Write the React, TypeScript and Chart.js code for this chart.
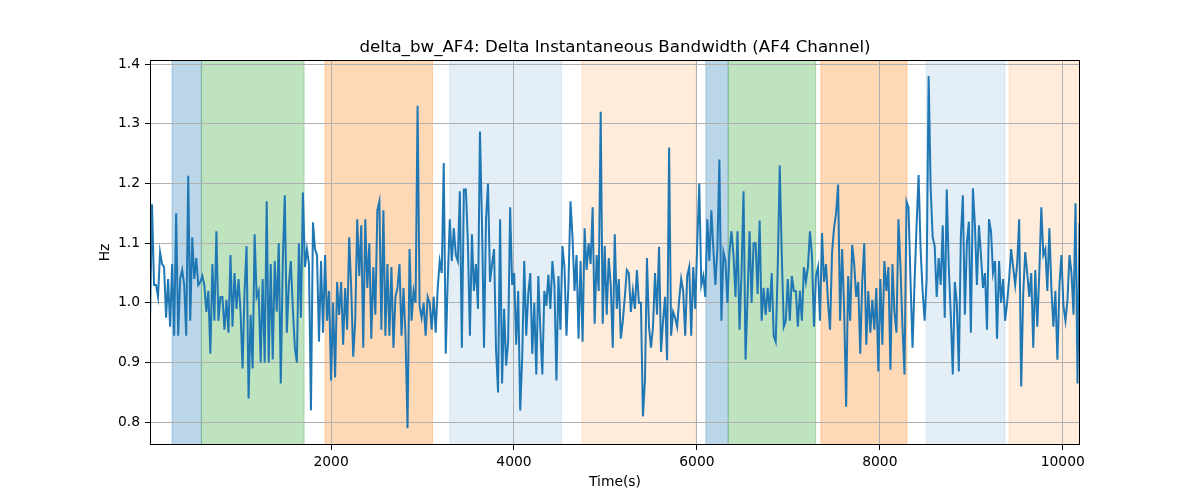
import React, { useEffect, useRef } from "react";
import { Chart, registerables } from "chart.js";

Chart.register(...registerables);

// ---- data ----
const T0 = 20; // first sample time (s)
const DT = 22; // sampling step (s)
const X_MIN = 20;
const X_MAX = 10189;
const Y_MIN = 0.762;
const Y_MAX = 1.4067;

const xTicks = [2000, 4000, 6000, 8000, 10000];
const yTicks = [0.8, 0.9, 1.0, 1.1, 1.2, 1.3, 1.4];

const TITLE = "delta_bw_AF4: Delta Instantaneous Bandwidth (AF4 Channel)";
const X_LABEL = "Time(s)";
const Y_LABEL = "Hz";

const seg1 = [
  0.965, 1.165, 1.03, 1.03, 1.01, 1.085, 1.065, 1.06, 0.975, 1.04,
  0.96, 1.065, 0.945, 1.15, 0.945, 1.04, 1.055, 1.03, 0.945, 1.213,
  0.97, 1.11, 1.04, 1.075, 1.03, 1.035, 1.045, 1.03, 0.985, 1.02,
  0.915, 1.065, 0.97, 1.12, 0.97, 1.01, 1.01, 0.955, 1.005, 0.95,
  1.08, 0.96, 1.05, 0.99, 1.04, 0.985, 0.89, 1.02, 1.095, 0.84,
  0.98, 0.89, 1.115, 1.01, 1.02, 0.9, 1.04, 0.9, 1.17, 0.9,
  1.065, 0.905, 1.07, 0.985, 1.1, 0.865, 1.07, 1.18, 0.95, 1.03,
  1.07, 0.99, 0.925, 0.9, 1.1, 0.975, 1.185, 1.06, 1.09, 1.065,
];
const seg2 = [
  0.82, 1.135, 1.09, 1.08, 0.935, 1.07, 0.95, 1.08, 0.97, 1.02,
  0.87, 1.0, 0.875, 1.035, 0.98, 1.035, 0.93, 1.025, 0.955, 1.11,
  1.025, 0.91, 0.97, 1.14, 1.045, 1.13, 0.925, 1.14, 1.025, 1.1,
  0.94, 1.06, 0.98, 1.155, 1.17, 0.955, 1.155, 0.945, 1.065, 0.945,
  1.06, 0.925, 1.01, 1.025, 1.065, 0.945, 1.025, 0.945, 0.79, 1.09,
  0.97, 1.02, 1.0, 1.33, 0.995, 0.975, 1.0, 0.945, 1.01, 1.0,
  0.955, 1.01, 0.95, 1.025, 1.07, 1.05, 1.234, 0.915, 1.04, 1.14,
  1.07, 1.125, 1.08, 1.07, 1.187, 0.925, 1.19,
];
const seg3 = [
  1.19, 1.1, 0.945, 1.115, 1.02, 1.065, 0.99, 1.287, 1.135, 0.925,
  1.14, 1.2, 1.035, 1.065, 1.09, 0.92, 0.85, 1.14, 0.865, 0.99,
  0.895, 0.935, 1.16, 1.03, 1.05, 0.93, 1.02, 0.82, 0.91, 1.07,
  0.945, 1.015, 1.05, 0.915, 1.0, 0.88, 1.045, 0.955, 0.88, 1.02,
  0.995, 1.047, 0.99, 1.07, 1.03, 0.87, 1.045, 0.955, 1.095, 1.06,
  0.945, 1.034, 1.17, 1.11, 1.02, 1.08, 0.94, 1.07, 0.935, 1.125,
  1.055, 1.1, 1.065, 1.16, 0.965, 1.08, 1.02, 1.32, 0.965, 1.095,
  0.98, 1.075, 1.03, 0.925, 1.115, 0.99, 1.04,
];
const seg4 = [
  0.94, 0.97, 1.01, 1.055, 1.05, 0.985, 1.02, 0.99, 1.055, 1.0,
  1.0, 0.81, 0.87, 1.075, 0.96, 0.925, 0.96, 1.05, 0.98, 1.094,
  0.918, 0.97, 1.01, 0.904, 1.26, 0.945, 0.985, 0.975, 0.96, 1.005,
  1.04, 1.02, 0.945, 1.045, 1.06, 0.945, 1.06, 0.99, 1.1, 1.2,
  1.03, 1.045, 1.01, 1.14, 1.07, 1.155, 1.09, 1.03, 1.09, 1.24,
  0.97, 1.085, 1.07, 1.0, 1.085, 1.12, 1.08, 1.01, 1.12, 0.955,
  1.05, 1.187, 0.905, 1.01, 1.12, 1.0, 1.1, 1.1, 1.015, 1.138,
  0.97, 1.025, 0.98, 1.025, 0.985, 1.05, 0.945,
];
const seg5 = [
  0.935, 1.06, 1.23, 1.08, 0.96, 0.97, 1.04, 0.97, 1.045, 1.02,
  1.02, 0.96, 1.02, 0.97, 1.06, 1.035, 1.06, 1.12, 1.08, 0.96,
  1.045, 1.06, 0.97, 1.117, 1.035, 1.065, 1.0, 0.955, 1.085, 1.126,
  1.15, 1.198, 0.97, 1.09, 0.99, 0.826, 1.045, 0.97, 1.097, 1.065,
  1.01, 1.035, 0.915, 1.035, 1.1, 0.93, 1.02, 0.95, 1.005, 0.955,
  1.025, 0.885, 1.04, 0.93, 1.07, 1.02, 1.06, 0.888, 1.065, 0.985,
  0.95, 1.14, 1.06, 0.96, 0.88, 1.17, 1.16, 1.035, 0.925, 1.035,
  1.13, 1.214, 1.09, 1.02, 0.97, 1.04, 1.38,
];
const seg6 = [
  1.192, 1.11, 1.095, 1.01, 1.075, 1.03, 1.13, 0.975, 1.19, 1.06,
  0.98, 0.88, 1.035, 1.0, 0.885, 1.11, 1.18, 0.98, 1.1, 1.136,
  0.95, 1.192, 1.13, 1.03, 1.13, 1.08, 1.025, 1.05, 0.955, 1.14,
  1.12, 1.05, 1.07, 0.94, 1.07, 1.0, 1.04, 0.97, 1.0, 1.04,
  1.09, 1.06, 1.03, 1.065, 1.14, 0.86, 1.015, 1.085, 1.05, 1.01,
  1.05, 0.925, 1.055, 0.96, 1.05, 1.16, 1.08, 1.09, 1.02, 1.125,
  1.025, 0.96, 1.02, 0.905, 1.03, 1.08, 0.995, 0.97, 1.005, 1.08,
  1.05, 0.98, 1.167, 0.865, 1.135,
];

const bandwidth = [...seg1, ...seg2, ...seg3, ...seg4, ...seg5, ...seg6];

// shaded intervals
const spanStarts = [261, 582, 1934, 3298, 4742, 6098, 6342, 7356, 8508, 9413];
const spanEnds = [582, 1705, 3109, 4520, 5989, 6342, 7298, 8297, 9369, 10189];
const spanColors = [
  "rgba(31,119,180,0.3)",
  "rgba(44,160,44,0.3)",
  "rgba(255,127,14,0.3)",
  "rgba(31,119,180,0.12)",
  "rgba(255,127,14,0.15)",
  "rgba(31,119,180,0.3)",
  "rgba(44,160,44,0.3)",
  "rgba(255,127,14,0.3)",
  "rgba(31,119,180,0.12)",
  "rgba(255,127,14,0.15)",
];

const FONT = '"DejaVu Sans", "Liberation Sans", sans-serif';

const decorPlugin = {
  id: "decor",
  beforeDraw(chart: any) {
    const { ctx, chartArea: a, scales } = chart;
    ctx.save();
    ctx.fillStyle = "#ffffff";
    ctx.fillRect(0, 0, chart.width, chart.height);
    ctx.beginPath();
    ctx.rect(a.left, a.top, a.right - a.left, a.bottom - a.top);
    ctx.clip();
    const xs = scales.x;
    for (let i = 0; i < spanStarts.length; i++) {
      const x1 = xs.getPixelForValue(spanStarts[i]);
      const x2 = xs.getPixelForValue(spanEnds[i]);
      ctx.fillStyle = spanColors[i];
      ctx.fillRect(x1, a.top, x2 - x1, a.bottom - a.top);
      ctx.strokeStyle = spanColors[i];
      ctx.lineWidth = 1;
      ctx.strokeRect(x1, a.top, x2 - x1, a.bottom - a.top);
    }
    ctx.restore();
  },
  afterDraw(chart: any) {
    const { ctx, chartArea: a } = chart;
    ctx.save();
    ctx.strokeStyle = "#000000";
    ctx.lineWidth = 1;
    ctx.strokeRect(
      Math.round(a.left) + 0.5,
      Math.round(a.top) + 0.5,
      Math.round(a.right - a.left) - 1,
      Math.round(a.bottom - a.top) - 1
    );
    ctx.fillStyle = "#000000";
    ctx.textAlign = "center";
    ctx.textBaseline = "alphabetic";
    ctx.font = `16.67px ${FONT}`;
    ctx.fillText(TITLE, (a.left + a.right) / 2, 52);
    ctx.font = `13.89px ${FONT}`;
    ctx.fillText(X_LABEL, (a.left + a.right) / 2, 486);
    ctx.translate(108.5, (a.top + a.bottom) / 2);
    ctx.rotate(-Math.PI / 2);
    ctx.fillText(Y_LABEL, 0, 0);
    ctx.restore();
  },
};

export default function App() {
  const canvasRef = useRef<HTMLCanvasElement | null>(null);

  useEffect(() => {
    if (!canvasRef.current) return;
    const points = bandwidth.map((v, i) => ({ x: T0 + i * DT, y: v }));
    const chart = new Chart(canvasRef.current, {
      type: "line",
      data: {
        datasets: [
          {
            data: points,
            borderColor: "#1f77b4",
            borderWidth: 2,
            pointRadius: 0,
            tension: 0,
            fill: false,
          },
        ],
      },
      options: {
        animation: false,
        responsive: true,
        maintainAspectRatio: false,
        devicePixelRatio: 1,
        parsing: false as any,
        normalized: true,
        layout: { padding: { left: 0, right: 120, top: 60, bottom: 0 } },
        plugins: {
          legend: { display: false },
          title: { display: false },
          tooltip: { enabled: false },
        },
        scales: {
          x: {
            type: "linear",
            min: X_MIN,
            max: X_MAX,
            afterFit: (s: any) => {
              s.height = 55;
            },
            afterBuildTicks: (s: any) => {
              s.ticks = xTicks.map((v) => ({ value: v }));
            },
            grid: {
              color: "#b0b0b0",
              lineWidth: 1,
              tickColor: "#000000",
              tickLength: 5,
              drawTicks: true,
            },
            border: { display: false },
            ticks: {
              color: "#000000",
              font: { family: FONT, size: 13.89 },
              padding: 4,
              maxRotation: 0,
              autoSkip: false,
              callback: (v: any) => String(v),
            },
          },
          y: {
            type: "linear",
            min: Y_MIN,
            max: Y_MAX,
            afterFit: (s: any) => {
              s.width = 150;
            },
            afterBuildTicks: (s: any) => {
              s.ticks = yTicks.map((v) => ({ value: v }));
            },
            grid: {
              color: "#b0b0b0",
              lineWidth: 1,
              tickColor: "#000000",
              tickLength: 5,
              drawTicks: true,
            },
            border: { display: false },
            ticks: {
              color: "#000000",
              font: { family: FONT, size: 13.89 },
              padding: 5,
              autoSkip: false,
              callback: (v: any) => Number(v).toFixed(1),
            },
          },
        },
      },
      plugins: [decorPlugin],
    });
    return () => chart.destroy();
  }, []);

  return (
    <div
      style={{
        position: "fixed",
        left: 0,
        top: 0,
        width: "1200px",
        height: "500px",
        background: "#ffffff",
      }}
    >
      <canvas ref={canvasRef} />
    </div>
  );
}
